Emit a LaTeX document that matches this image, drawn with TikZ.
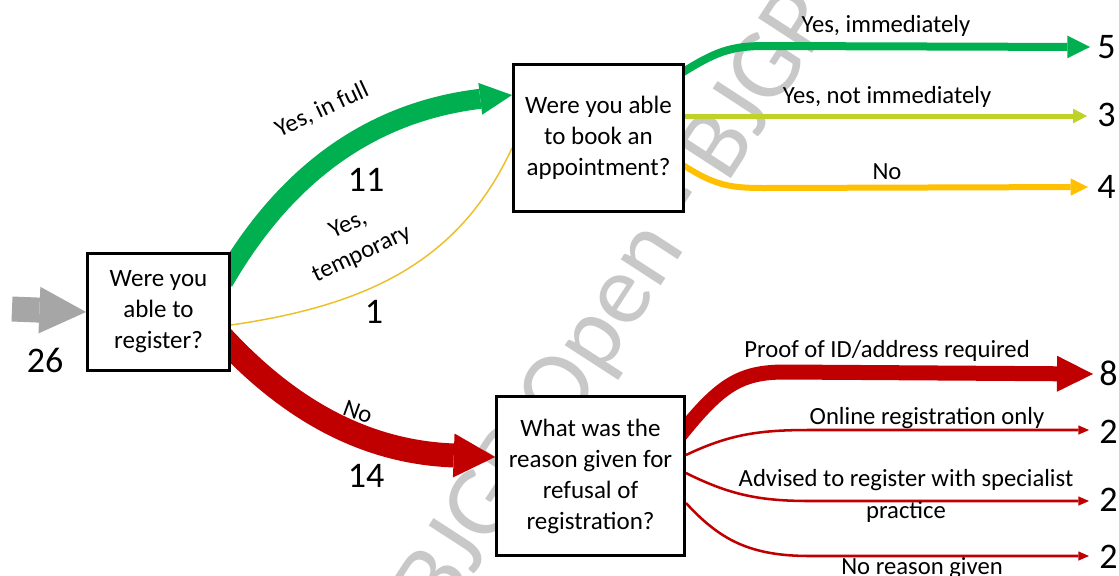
\documentclass[tikz,border=0pt]{standalone}
\usepackage{fontspec}
\setmainfont{Carlito}
\usetikzlibrary{arrows.meta,calc,backgrounds}
\definecolor{cgreen}{RGB}{0,176,80}
\definecolor{clime}{RGB}{190,210,40}
\definecolor{corange}{RGB}{255,192,0}
\definecolor{cred}{RGB}{192,0,0}
\definecolor{cgrey}{RGB}{166,166,166}
\definecolor{cwater}{RGB}{200,200,200}
\definecolor{cthin}{RGB}{238,190,40}
\begin{document}
\begin{tikzpicture}[x=0.75pt,y=-0.75pt,
  qbox/.style={draw=black, line width=2.2pt, fill=white, align=center,
    font=\fontsize{18.75}{23.25}\selectfont, inner sep=0pt},
  lbl/.style={font=\fontsize{18.5}{24}\selectfont, align=center, inner sep=0pt},
  num/.style={font=\fontsize{27}{30}\selectfont, inner sep=0pt},
  rnum/.style={num, anchor=west},
  tipbig/.style={-{Triangle[length=#1,width=#1,line width=0pt]}},
]
\useasboundingbox (0,0) rectangle (1119,575);

% question boxes
\node[qbox, minimum width=106.5pt, minimum height=87.75pt] (q1) at (158.5,312) {Were you\\able to\\register?};
\node[qbox, minimum width=127.5pt, minimum height=110.25pt] (q2) at (598.5,138) {Were you able\\to book an\\appointment?};
\node[qbox, minimum width=141pt, minimum height=119.25pt] (q3) at (590.5,476) {What was the\\reason given for\\refusal of\\registration?};

% numbers
\node[num] (n26) at (45,360) {26};
\node[num] (n11) at (366,180) {11};
\node[num] (n1) at (374,312) {1};
\node[num] (n14) at (366,476) {14};
\node[rnum] (n5) at (1097,47) {5};
\node[rnum] (n3) at (1097,115) {3};
\node[rnum] (n4) at (1097,187) {4};
\node[rnum] (n8) at (1099,373) {8};
\node[rnum] (n2a) at (1099,432) {2};
\node[rnum] (n2b) at (1099,500) {2};
\node[rnum] (n2c) at (1099,557) {2};

% labels
\node[lbl, rotate=25] (l1) at (322,110) {Yes, in full};
\node[lbl, rotate=25] (l2) at (355,240) {Yes,\\temporary};
\node[lbl, rotate=-20] (l3) at (358,412) {No};
\node[lbl] (l4) at (886,26) {Yes, immediately};
\node[lbl] (l5) at (887,97) {Yes, not immediately};
\node[lbl] (l6) at (887,172) {No};
\node[lbl] (l7) at (887,351) {Proof of ID/address required};
\node[lbl] (l8) at (927,418) {Online registration only};
\node[lbl] (l9) at (906,496) {Advised to register with specialist\\practice};
\node[lbl, anchor=base] (l10) at (922,574) {No reason given};

\begin{pgfonlayer}{background}
% watermark
\node[rotate=57, text=cwater, font=\fontsize{75}{80}\selectfont, inner sep=0pt] (wm) at (620,305) {BJGP Open - BJGP};

% input arrow
\coordinate (in) at (12,309);
\draw[cgrey, line width=18.75pt, tipbig=35pt] (in) -- (q1.west);

% from q1
\draw[cgreen, line width=15pt, tipbig=24pt]
  ($(q1.north east)+(-7.5,29.5)$) .. controls (285,175) and (370,112) .. ($(q2.north west)+(0,32)$);
\draw[cthin, line width=1.1pt]
  ($(q1.east)+(0,13)$) .. controls (370,305) and (460,260) .. ($(q2.west)+(0,10)$);
\draw[cred, line width=18pt, -{Triangle[length=31pt,width=33pt,line width=0pt]}]
  ($(q1.east)+(-9,25)$) .. controls (285,405) and (360,452) .. ($(q3.west)+(0,-19)$);

% from q2
\draw[cgreen, line width=6pt, -{Triangle[length=17pt,width=17pt,line width=0pt]}]
  ($(q2.east)+(-5,-64)$) .. controls (715,52) and (730,46) .. (765,46) -- ($(n5.west)+(-7,0)$);
\draw[clime, line width=3.75pt, -{Triangle[length=10.5pt,width=11pt,line width=0pt]}]
  ($(q2.east)+(0,-22)$) -- ($(n3.west)+(-10,1)$);
\draw[corange, line width=4.5pt, -{Triangle[length=13pt,width=13pt,line width=0pt]}]
  ($(q2.east)+(-5,25)$) .. controls (715,186) and (730,188) .. (765,188) -- ($(n4.west)+(-9,0)$);

% from q3
\draw[cred, line width=11.25pt, -{Triangle[length=27pt,width=27pt,line width=0pt]}]
  ($(q3.north east)+(-7,41.5)$) .. controls (720,385) and (740,372) .. (785,372) -- ($(n8.west)+(-6,1)$);
\draw[cred, line width=1.9pt, -{Triangle[length=8pt,width=7pt,line width=0pt]}]
  ($(q3.east)+(0,-21)$) .. controls (730,434) and (760,430) .. (810,430) -- ($(n2a.west)+(-10,-2)$);
\draw[cred, line width=1.9pt, -{Triangle[length=8pt,width=7pt,line width=0pt]}]
  ($(q3.east)+(0,-3)$) .. controls (730,495) and (760,501) .. (810,501) -- ($(n2b.west)+(-10,1)$);
\draw[cred, line width=1.9pt, -{Triangle[length=8pt,width=7pt,line width=0pt]}]
  ($(q3.east)+(0,27)$) .. controls (720,540) and (750,556) .. (810,556) -- ($(n2c.west)+(-10,-1)$);
\end{pgfonlayer}
\end{tikzpicture}
\end{document}
